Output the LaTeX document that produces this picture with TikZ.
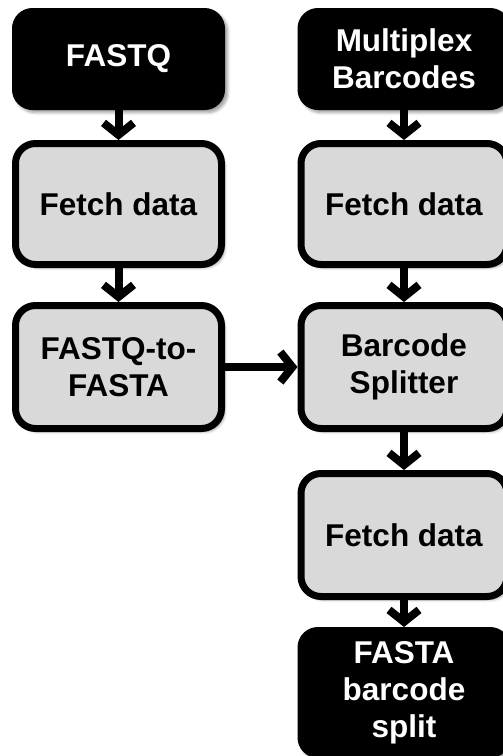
\documentclass[tikz,border=0pt]{standalone}
\usepackage{fontspec}
\setmainfont{Liberation Sans}
\usetikzlibrary{arrows.meta,shadows.blur}
\begin{document}
\begin{tikzpicture}[x=1pt,y=1pt,
  base/.style={rounded corners=20pt, align=center, inner sep=0pt,
    font=\fontsize{31.5}{37}\selectfont\bfseries,
    blur shadow={shadow xshift=3pt, shadow yshift=-3pt, shadow blur steps=6, shadow blur radius=3pt, shadow opacity=40}},
  darkbox/.style={base, fill=black, text=white, draw=black, line width=1pt, minimum width=212pt},
  lightbox/.style={base, fill=gray!30, draw=black, line width=7pt, minimum width=206pt},
  conn/.style={line width=8pt, -{Straight Barb[length=12pt,width=30pt]}}
]
\useasboundingbox (0,0) rectangle (503,-756);
\clip (0,0) rectangle (503,-756);
\node[darkbox, minimum height=101pt] (fq) at (118.5,-59) {FASTQ};
\node[lightbox, minimum height=121pt] (f1) at (118.5,-204) {Fetch data};
\node[lightbox, minimum height=123pt] (fa) at (118.5,-367) {FASTQ-to-\\FASTA};
\node[darkbox, minimum height=101pt] (mb) at (404,-59) {Multiplex\\Barcodes};
\node[lightbox, minimum height=121pt] (f2) at (404,-204) {Fetch data};
\node[lightbox, minimum height=123pt] (bs) at (404,-367) {Barcode\\Splitter};
\node[lightbox, minimum height=123pt] (f3) at (404,-535) {Fetch data};
\node[darkbox, minimum height=130pt] (out) at (404,-692.5) {FASTA\\barcode\\split};
\draw[conn] (fq) -- (f1);
\draw[conn] (f1) -- (fa);
\draw[conn] (fa) -- (bs);
\draw[conn] (mb) -- (f2);
\draw[conn] (f2) -- (bs);
\draw[conn] (bs) -- (f3);
\draw[conn] (f3) -- (out);
\end{tikzpicture}
\end{document}
